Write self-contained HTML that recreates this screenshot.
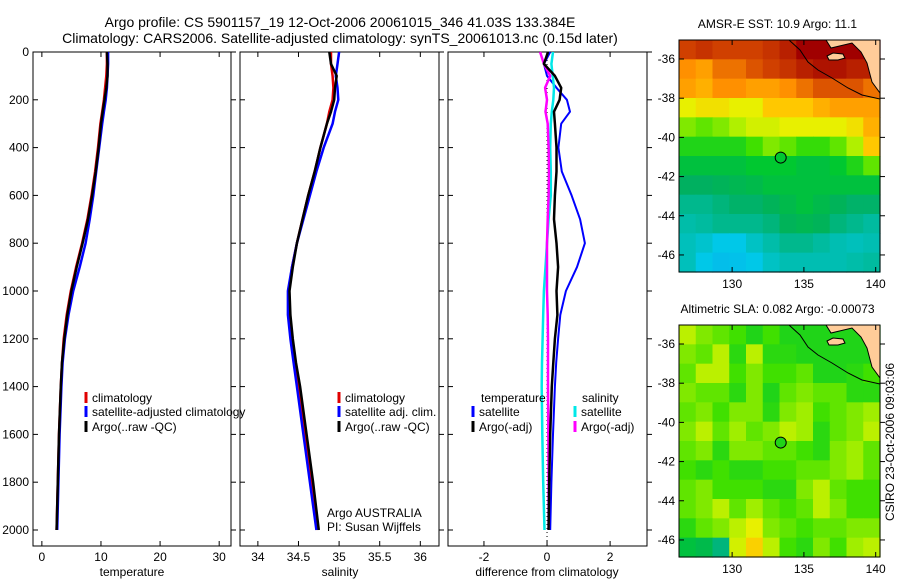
<!DOCTYPE html>
<html><head><meta charset="utf-8"><style>
html,body{margin:0;padding:0;background:#fff}
svg{display:block;font-family:"Liberation Sans",sans-serif}
</style></head><body>
<svg id="c" width="900" height="580" viewBox="0 0 900 580">
<text x="340" y="27" font-size="14" text-anchor="middle">Argo profile: CS 5901157_19 12-Oct-2006 20061015_346 41.03S 133.384E</text>
<text x="340" y="43" font-size="14" text-anchor="middle">Climatology: CARS2006. Satellite-adjusted climatology: synTS_20061013.nc (0.15d later)</text>
<g id="plots"></g>
</svg>
<script>
// ---- data ----
const depths = [0,50,100,150,200,250,300,400,500,600,700,800,900,1000,1100,1200,1300,1400,1600,1800,2000];
const tempClim = [11,11,10.9,10.7,10.5,10.2,9.9,9.5,9.0,8.4,7.7,6.8,5.8,4.9,4.2,3.7,3.4,3.2,2.9,2.7,2.5];
const tempSat = [11.2,11.2,11.1,11,10.8,10.5,10.2,9.7,9.2,8.7,8.1,7.4,6.4,5.3,4.5,3.9,3.5,3.3,3.0,2.8,2.6];
const tempArgo = [11,11.1,11.1,10.9,10.6,10.3,10.0,9.6,9.1,8.5,7.8,6.9,5.9,5.0,4.3,3.8,3.4,3.2,2.9,2.7,2.5];
const salClim = [34.9,34.9,34.92,34.93,34.92,34.88,34.85,34.77,34.7,34.62,34.55,34.48,34.42,34.38,34.38,34.41,34.45,34.5,34.58,34.66,34.73];
const salSat = [35.0,34.98,34.96,34.98,34.99,34.95,34.92,34.81,34.72,34.64,34.56,34.48,34.42,34.37,34.37,34.4,34.44,34.48,34.56,34.64,34.72];
const salArgo = [34.88,34.9,34.97,34.95,34.94,34.9,34.85,34.77,34.7,34.62,34.55,34.48,34.43,34.39,34.4,34.43,34.47,34.52,34.6,34.68,34.75];
const dTempSat = [0.1,-0.1,0,0.3,0.63,0.73,0.45,0.36,0.47,0.78,1.05,1.2,0.95,0.6,0.42,0.35,0.29,0.25,0.19,0.14,0.1];
const dTempArgo = [0.03,-0.1,0.25,0.45,0.4,0.22,0.25,0.3,0.3,0.25,0.22,0.3,0.35,0.3,0.33,0.25,0.2,0.15,0.1,0.07,0.05];
const dSalSat = [0.19,0.14,0.18,0.22,0.2,0.15,0.12,0.1,0.12,0.12,0.05,0,-0.05,-0.1,-0.12,-0.14,-0.16,-0.17,-0.15,-0.12,-0.08];
const dSalArgo = [-0.22,-0.1,0.1,-0.06,0,-0.05,0.02,0.05,0.06,0.05,0.02,0,0,0,0.02,0.03,0.03,0.03,0.04,0.05,0.05];
const depthTicks = [0,200,400,600,800,1000,1200,1400,1600,1800,2000];
const tempTicks = [0,10,20,30];
const salTicks = [34,34.5,35,35.5,36];
const salTickLabels = ["34","34.5","35","35.5","36"];
const diffTicks = [-2,0,2];
const lonTicks = [130,135,140];
const latTicks = [-36,-38,-40,-42,-44,-46];
const sstGrid = [
[0.9,0.92,0.9,0.9,0.9,0.92,0.95,1,1,1,1,1],
[0.82,0.8,0.85,0.85,0.88,0.9,0.92,0.95,0.97,0.97,0.95,0.95],
[0.8,0.78,0.82,0.82,0.8,0.8,0.82,0.85,0.88,0.88,0.88,0.85],
[0.7,0.72,0.72,0.7,0.7,0.75,0.75,0.75,0.78,0.8,0.8,0.8],
[0.62,0.6,0.62,0.65,0.68,0.68,0.7,0.7,0.7,0.7,0.72,0.78],
[0.55,0.55,0.55,0.55,0.58,0.62,0.6,0.57,0.57,0.6,0.65,0.75],
[0.5,0.5,0.5,0.5,0.52,0.52,0.52,0.5,0.5,0.52,0.55,0.6],
[0.45,0.45,0.46,0.47,0.48,0.5,0.5,0.5,0.5,0.5,0.5,0.5],
[0.4,0.4,0.42,0.44,0.44,0.46,0.48,0.5,0.48,0.46,0.44,0.44],
[0.37,0.38,0.4,0.4,0.4,0.42,0.46,0.47,0.46,0.42,0.4,0.38],
[0.35,0.33,0.3,0.3,0.34,0.37,0.4,0.4,0.38,0.36,0.35,0.36],
[0.35,0.3,0.27,0.28,0.3,0.34,0.36,0.36,0.36,0.36,0.37,0.38]];
const slaGrid = [
[0.66,0.62,0.6,0.58,0.55,0.58,0.55,0.55,0.55,0.55,0.55,0.55],
[0.62,0.6,0.66,0.56,0.66,0.56,0.56,0.55,0.55,0.55,0.55,0.55],
[0.6,0.66,0.66,0.58,0.62,0.58,0.58,0.6,0.55,0.55,0.56,0.58],
[0.62,0.6,0.6,0.56,0.62,0.55,0.6,0.62,0.6,0.6,0.56,0.56],
[0.6,0.62,0.58,0.62,0.62,0.56,0.62,0.64,0.58,0.6,0.62,0.64],
[0.62,0.66,0.6,0.64,0.6,0.62,0.66,0.64,0.56,0.6,0.62,0.66],
[0.6,0.62,0.56,0.62,0.62,0.6,0.6,0.58,0.56,0.62,0.64,0.6],
[0.58,0.56,0.58,0.56,0.56,0.58,0.58,0.6,0.6,0.62,0.64,0.6],
[0.6,0.62,0.58,0.58,0.58,0.56,0.56,0.62,0.66,0.6,0.58,0.58],
[0.6,0.62,0.66,0.6,0.64,0.6,0.58,0.6,0.66,0.62,0.58,0.58],
[0.56,0.6,0.62,0.66,0.7,0.62,0.6,0.58,0.6,0.6,0.62,0.62],
[0.5,0.48,0.42,0.68,0.74,0.66,0.58,0.56,0.62,0.58,0.64,0.66]];
const argoLon = 133.384, argoLat = -41.03;

// ---- drawing ----
const NS = "http://www.w3.org/2000/svg";
const root = document.getElementById('plots');
function mk(tag, attrs, parent){const e=document.createElementNS(NS,tag);for(const k in attrs)e.setAttribute(k,attrs[k]);(parent||root).appendChild(e);return e;}
function txt(x,y,s,size,anchor,parent){const t=mk('text',{x:x,y:y,'font-size':size,'text-anchor':anchor||'start'},parent);t.textContent=s;return t;}

const PT=52, PB=546;
const yD = d => PT + (d/2067)*(PB-PT);
function panel(name, x0, x1, xmin, xmax, ticks, tickLabels, showY){
  const sx = v => x0 + (v-xmin)/(xmax-xmin)*(x1-x0);
  const g = mk('g',{});
  
  
  const fr = mk('rect',{x:x0,y:PT,width:x1-x0,height:PB-PT,fill:'none',stroke:'#000','stroke-width':1},g);
  
  
  ticks.forEach((t,i)=>{
    const x=sx(t);
    mk('line',{x1:x,x2:x,y1:PB,y2:PB-5,stroke:'#000'},g);
    mk('line',{x1:x,x2:x,y1:PT,y2:PT+5,stroke:'#000'},g);
    const l=txt(x,PB+15,tickLabels[i],12,'middle',g);
    
    
  });
  depthTicks.forEach(d=>{
    const y=yD(d);
    mk('line',{x1:x0,x2:x0+5,y1:y,y2:y,stroke:'#000'},g);
    mk('line',{x1:x1,x2:x1+5,y1:y,y2:y,stroke:'#000'},g);
    if(showY){const l=txt(x0-4,y+4,String(d),12,'end',g);
      
      }
  });
  return {sx,g};
}
function series(p, vals, color, w, name, dash){
  const pts = vals.map((v,i)=>p.sx(v).toFixed(1)+','+yD(depths[i]).toFixed(1)).join(' ');
  const e = mk('polyline',{points:pts,fill:'none',stroke:color,'stroke-width':w,'stroke-linejoin':'round'},p.g);
  if(dash) e.setAttribute('stroke-dasharray',dash);
  
  
}
function legend(p, x, y, color, label, name){
  mk('line',{x1:x,x2:x,y1:y-10,y2:y+1,stroke:color,'stroke-width':3},p.g);
  const t = txt(x+6,y,label,12,'start',p.g);
  
  
}

// panel 1
const p1 = panel('temperature-panel',33,231,-1.5,32,tempTicks,tempTicks.map(String),true);
series(p1,tempClim,'#e00000',2.5,'temp-climatology-line');
series(p1,tempSat,'#0000ff',2.5,'temp-satellite-line');
series(p1,tempArgo,'#000',2.5,'temp-argo-line');
legend(p1,86,402,'#e00000','climatology','legend-climatology');
legend(p1,86,416,'#0000ff','satellite-adjusted climatology','legend-satellite-adjusted');
legend(p1,86,431,'#000','Argo(..raw -QC)','legend-argo');
let xl=txt(132,576,'temperature',12,'middle');  

// panel 2
const p2 = panel('salinity-panel',240,439,33.78,36.23,salTicks,salTickLabels,false);
series(p2,salClim,'#e00000',2.5,'sal-climatology-line');
series(p2,salSat,'#0000ff',2.5,'sal-satellite-line');
series(p2,salArgo,'#000',2.5,'sal-argo-line');
legend(p2,339,402,'#e00000','climatology','legend-sal-climatology');
legend(p2,339,416,'#0000ff','satellite adj. clim.','legend-sal-satellite');
legend(p2,339,431,'#000','Argo(..raw -QC)','legend-sal-argo');
let a1=txt(327,517,'Argo AUSTRALIA',12);  
let a2=txt(327,531,'PI: Susan Wijffels',12);  
xl=txt(340,576,'salinity',12,'middle');  

// panel 3
const p3 = panel('difference-panel',448,647,-3.14,3.17,diffTicks,diffTicks.map(String),false);
mk('line',{x1:p3.sx(0),x2:p3.sx(0),y1:PT,y2:PB,stroke:'#000','stroke-dasharray':'1,3'},p3.g);
series(p3,dTempSat,'#0000ff',2,'diff-temp-satellite-line');
series(p3,dSalSat,'#00e8e8',2.5,'diff-sal-satellite-line');
series(p3,dSalArgo,'#ff00ff',2.5,'diff-sal-argo-line');
series(p3,dTempArgo,'#000',2.5,'diff-temp-argo-line');
let h=txt(481,402,'temperature',12);  
h=txt(582,402,'salinity',12);  
legend(p3,473,416,'#0000ff','satellite','legend-diff-temp-satellite');
legend(p3,473,431,'#000','Argo(-adj)','legend-diff-temp-argo');
legend(p3,575,416,'#00e8e8','satellite','legend-diff-sal-satellite');
legend(p3,575,431,'#ff00ff','Argo(-adj)','legend-diff-sal-argo');
xl=txt(547,576,'difference from climatology',12,'middle');  

// colormap
const stops=[[0,[30,100,255]],[0.3,[0,200,232]],[0.45,[0,176,96]],[0.52,[0,200,48]],[0.58,[64,224,0]],[0.65,[176,240,0]],[0.7,[232,240,0]],[0.75,[255,200,0]],[0.82,[255,144,0]],[0.9,[208,64,0]],[1,[160,0,0]]];
function cmap(v){for(let i=1;i<stops.length;i++){if(v<=stops[i][0]){const a=stops[i-1],b=stops[i],t=(v-a[0])/(b[0]-a[0]);return 'rgb('+a[1].map((c,k)=>Math.round(c+(b[1][k]-c)*t)).join(',')+')';}}return 'rgb(160,0,0)';}

function map(name, grid, x0, x1, yTop, yBot, title){
  const LON0=126.3, LON1=140.3, LAT0=-35.03, LAT1=-46.87;
  const sx = v => x0+(v-LON0)/(LON1-LON0)*(x1-x0);
  const sy = v => yTop+(LAT0-v)/(LAT0-LAT1)*(yBot-yTop);
  const g = mk('g',{});
  
  
  const rows=grid.length, cols=grid[0].length;
  const cw=(x1-x0)/cols, ch=(yBot-yTop)/rows;
  grid.forEach((row,r)=>row.forEach((v,c)=>{
    const cell=mk('rect',{x:(x0+c*cw).toFixed(2),y:(yTop+r*ch).toFixed(2),width:(cw+0.6).toFixed(2),height:(ch+0.6).toFixed(2),fill:cmap(v)},g);
    
    
  }));
  const dy=yTop-40;
  const land=mk('polygon',{points:[[826,40],[831,48],[852,43],[861,52],[867,63],[872,82],[880,93],[880,40]].map(p=>p[0]+','+(p[1]+dy)).join(' '),fill:'#ffcc99',stroke:'#000','stroke-width':1},g);
  
  
  const isl=mk('polygon',{points:[[827,56],[833,53],[843,54],[845,58],[838,60],[829,60]].map(p=>p[0]+','+(p[1]+dy)).join(' '),fill:'#ffcc99',stroke:'#000','stroke-width':1},g);
  
  
  const coast=mk('polyline',{points:[[789,40],[800,50],[808,62],[818,70],[832,78],[848,88],[862,95],[880,99]].map(p=>p[0]+','+(p[1]+dy)).join(' '),fill:'none',stroke:'#000','stroke-width':1},g);
  
  
  const m=mk('circle',{cx:sx(argoLon),cy:sy(argoLat),r:5.5,fill:cmap(name==='sst-map'?0.52:0.55),stroke:'#000','stroke-width':1},g);
  
  
  mk('rect',{x:x0,y:yTop,width:x1-x0,height:yBot-yTop,fill:'none',stroke:'#000'},g);
  lonTicks.forEach(t=>{const x=sx(t);
    mk('line',{x1:x,x2:x,y1:yBot,y2:yBot-5,stroke:'#000'},g);
    mk('line',{x1:x,x2:x,y1:yTop,y2:yTop+5,stroke:'#000'},g);
    const l=txt(x,yBot+16,String(t),12,'middle',g);
    
    });
  latTicks.forEach(t=>{const y=sy(t);
    mk('line',{x1:x0,x2:x0+5,y1:y,y2:y,stroke:'#000'},g);
    mk('line',{x1:x1,x2:x1+5,y1:y,y2:y,stroke:'#000'},g);
    const l=txt(x0-4,y+4,String(t),12,'end',g);
    
    });
  const tt=txt((x0+x1)/2-2,yTop-12,title,12,'middle',g);
  
  
}
map('sst-map',sstGrid,679,880,40,272,'AMSR-E SST: 10.9 Argo: 11.1');
map('sla-map',slaGrid,679,880,325,557,'Altimetric SLA: 0.082 Argo: -0.00073');
const cs=txt(0,0,'CSIRO 23-Oct-2006 09:03:06',12,'middle');
cs.setAttribute('transform','translate(894,442) rotate(-90)');


</script>
</body></html>
